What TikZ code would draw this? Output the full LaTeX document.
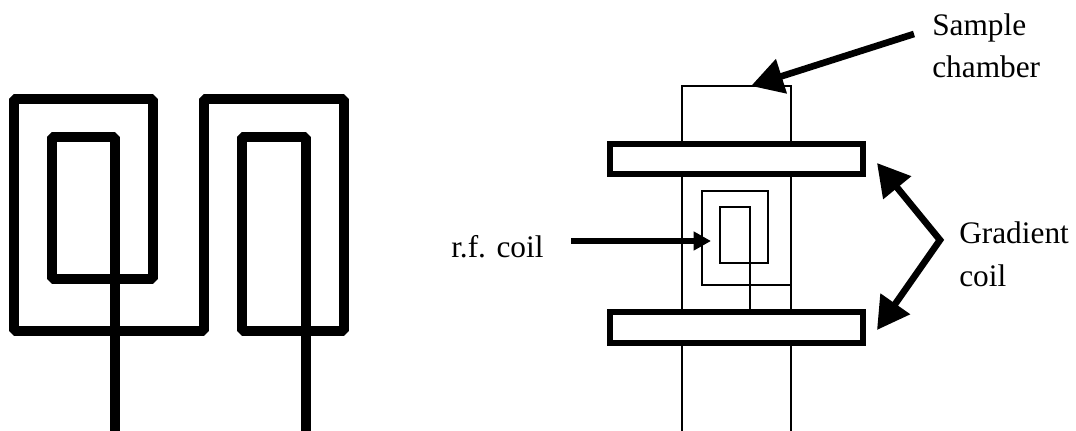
\documentclass[tikz,border=0pt]{standalone}
\usepackage{fontspec}
\setmainfont{Liberation Serif}
\usetikzlibrary{arrows.meta}

\tikzset{
  coilline/.style={line width=7.5pt,line join=bevel},
  thinline/.style={line width=2.2pt},
  barline/.style={line width=4.2pt,fill=white},
  bigarrow/.style={line width=5pt,-{Triangle[length=24pt,width=26pt]}},
  lbl/.style={font=\fontsize{23.5}{32.5}\selectfont,inner sep=0pt,anchor=base west,align=left},
}

\begin{document}
\begin{tikzpicture}[x=0.75pt,y=-0.75pt]
        \useasboundingbox (0,0) rectangle (1076,431);

        % meander coil
        \draw[coilline] (115,431) -- (115,137) -- (52,137) -- (52,279) -- (153,279) -- (153,99)
          -- (14,99) -- (14,331) -- (204,331) -- (204,99) -- (344,99) -- (344,331)
          -- (242,331) -- (242,137) -- (306,137) -- (306,431);

        % chamber and r.f. coil
        \draw[thinline] (682,431) -- (682,86) -- (791,86) -- (791,431);
        \draw[thinline] (750,312) -- (750,207) -- (720,207) -- (720,263) -- (768,263)
          -- (768,191) -- (702,191) -- (702,285) -- (791,285);

        % gradient coils
        \draw[barline] (610,144) rectangle (863,174);
        \draw[barline] (610,312) rectangle (863,343);

        % labels
        \node[lbl] (sample) at (932,36) {Sample};
        \node[lbl] (chamber) at (932,78) {chamber};
        \node[lbl] (gradient) at (959,244) {Gradient};
        \node[lbl] (coil) at (959,287) {coil};
        \node[lbl] (rfcoil) at (451,258) {r.f. coil};

        % arrows
        \coordinate (sampletail) at (914,34);
        \coordinate (sampletip) at (751,86);
        \coordinate (rftail) at (571,241);
        \coordinate (rftip) at (711,241);
        \coordinate (gradtop) at (877,163);
        \coordinate (gradapex) at (940,240);
        \coordinate (gradbot) at (877,330);

        \draw[bigarrow] (sampletail) -- (sampletip);
        \draw[line width=4.2pt,-{Triangle[length=13pt,width=13.5pt]}] (rftail) -- (rftip);
        \draw[bigarrow,{Triangle[length=24pt,width=26pt]}-{Triangle[length=24pt,width=26pt]}]
          (gradtop) -- (gradapex) -- (gradbot);
\end{tikzpicture}
\end{document}
